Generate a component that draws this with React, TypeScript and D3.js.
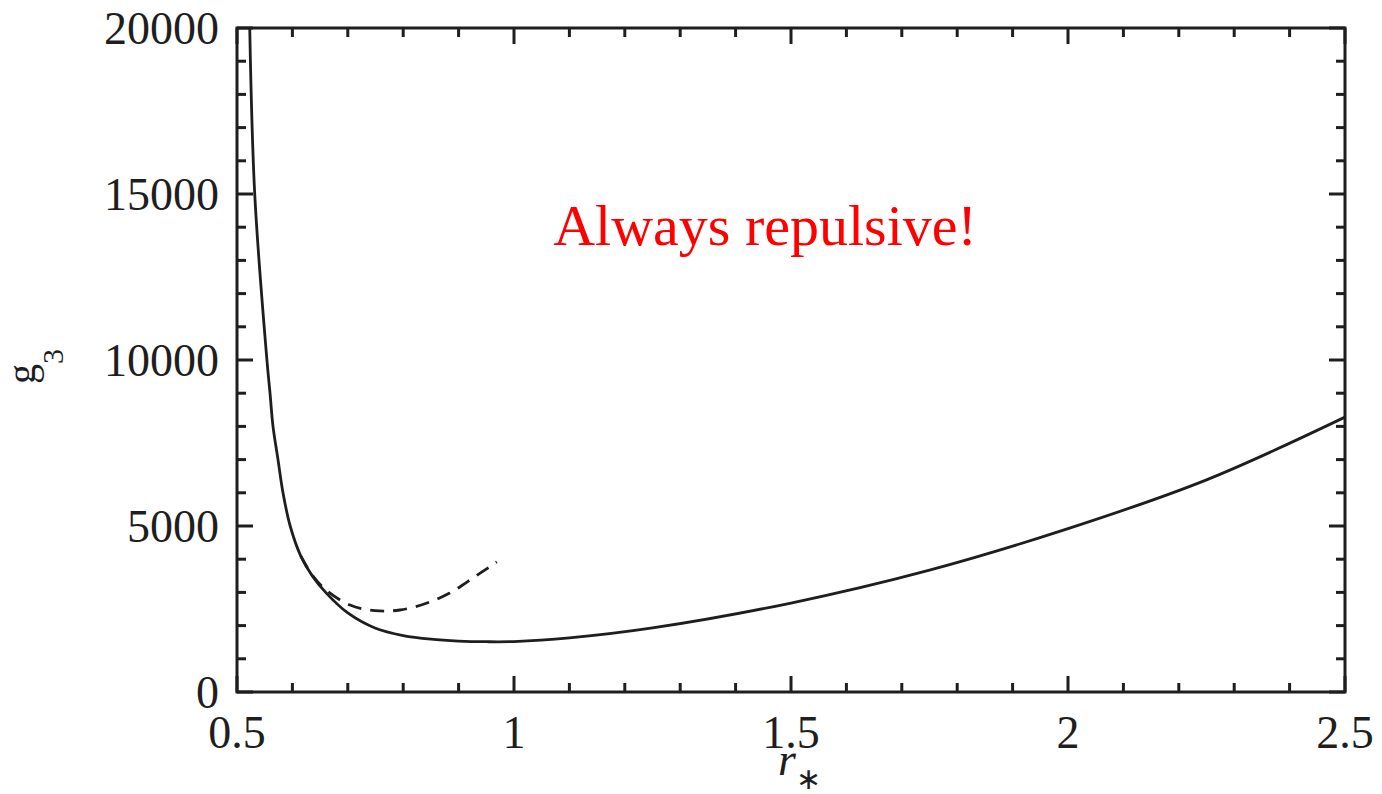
import React from "react";
import * as d3 from "d3";

// Solid curve: g3 versus r*
const solidR = [0.523, 0.532, 0.554, 0.5596, 0.565, 0.574, 0.583, 0.596, 0.615, 0.635, 0.66, 0.7, 0.75, 0.8, 0.85, 0.9, 0.95, 1.0, 1.1, 1.25, 1.5, 1.75, 2.0, 2.25, 2.5];
const solidG = [20000, 15000, 10000, 9000, 8000, 7000, 6000, 5000, 4100, 3520, 3000, 2380, 1920, 1700, 1590, 1535, 1515, 1520, 1630, 1930, 2680, 3670, 4920, 6390, 8280];

// Dashed curve: approximate branch
const dashR = [0.615, 0.635, 0.66, 0.704, 0.749, 0.794, 0.843, 0.884, 0.915, 0.969];
const dashG = [4100, 3540, 3080, 2620, 2450, 2470, 2680, 2980, 3310, 3920];

const xMajor = [0.5, 1, 1.5, 2, 2.5];
const xMajorLabels = ["0.5", "1", "1.5", "2", "2.5"];
const yMajor = [0, 5000, 10000, 15000, 20000];
const yMajorLabels = ["0", "5000", "10000", "15000", "20000"];

const annotation = "Always repulsive!";

const W = 1382;
const H = 794;
const left = 237, right = 1345, top = 28, bottom = 692;
const font = "'Liberation Serif', 'Times New Roman', serif";
const ink = "#1e1e1e";

export default function App() {
  const x = d3.scaleLinear().domain([0.5, 2.5]).range([left, right]);
  const y = d3.scaleLinear().domain([0, 20000]).range([bottom, top]);

  const line = d3
    .line<[number, number]>()
    .x((d) => x(d[0]))
    .y((d) => y(d[1]))
    .curve(d3.curveCatmullRom.alpha(0.5));

  const solidPath = line(solidR.map((r, i) => [r, solidG[i]] as [number, number])) || "";
  const dashPath = line(dashR.map((r, i) => [r, dashG[i]] as [number, number])) || "";

  const xMinor = d3.range(0, 21).map((i) => 0.5 + i * 0.1);
  const yMinor = d3.range(0, 21).map((i) => i * 1000);
  const isMajorX = (v: number) => Math.abs(v * 2 - Math.round(v * 2)) < 1e-6;
  const isMajorY = (v: number) => v % 5000 === 0;
  const majLen = 16;
  const minLen = 9;

  return (
    <svg
      width={W}
      height={H}
      style={{ position: "absolute", left: 0, top: 0, background: "#fff" }}
    >
      <defs>
        <clipPath id="plot">
          <rect x={left} y={top} width={right - left} height={bottom - top} />
        </clipPath>
      </defs>

      {/* ticks on all four sides, pointing inward */}
      <g stroke={ink} strokeWidth={3}>
        {xMinor.map((v, i) => {
          const len = isMajorX(v) ? majLen : minLen;
          const px = x(v);
          return (
            <g key={"xt" + i}>
              <line x1={px} x2={px} y1={bottom} y2={bottom - len} />
              <line x1={px} x2={px} y1={top} y2={top + len} />
            </g>
          );
        })}
        {yMinor.map((v, i) => {
          const len = isMajorY(v) ? majLen : minLen;
          const py = y(v);
          return (
            <g key={"yt" + i}>
              <line x1={left} x2={left + len} y1={py} y2={py} />
              <line x1={right} x2={right - len} y1={py} y2={py} />
            </g>
          );
        })}
      </g>

      {/* curves */}
      <g clipPath="url(#plot)" fill="none" stroke={ink}>
        <path d={solidPath} strokeWidth={2.8} />
        <path d={dashPath} strokeWidth={2.8} strokeDasharray="14 9" />
      </g>

      {/* frame */}
      <rect
        x={left}
        y={top}
        width={right - left}
        height={bottom - top}
        fill="none"
        stroke={ink}
        strokeWidth={3}
      />

      {/* tick labels */}
      <g fontFamily={font} fontSize={46} fill={ink}>
        {xMajor.map((v, i) => (
          <text key={"xl" + i} x={x(v)} y={748} textAnchor="middle">
            {xMajorLabels[i]}
          </text>
        ))}
        {yMajor.map((v, i) => (
          <text key={"yl" + i} x={219} y={y(v) + 16} textAnchor="end">
            {yMajorLabels[i]}
          </text>
        ))}
      </g>

      {/* axis titles */}
      <text x={x(1.5) - 13} y={775} fontFamily={font} fontSize={46} fontStyle="italic" fill={ink}>
        r
        <tspan fontStyle="normal" fontSize={30} dy={14}>∗</tspan>
      </text>
      <g transform="translate(35, 384) rotate(-90)">
        <text x={0} y={0} fontFamily={font} fontSize={40} fill={ink}>
          g
          <tspan fontSize={30} dy={28}>3</tspan>
        </text>
      </g>

      {/* annotation */}
      <text
        x={765}
        y={245}
        textAnchor="middle"
        fontFamily={font}
        fontSize={58}
        fill="#ff0000"
      >
        {annotation}
      </text>
    </svg>
  );
}
